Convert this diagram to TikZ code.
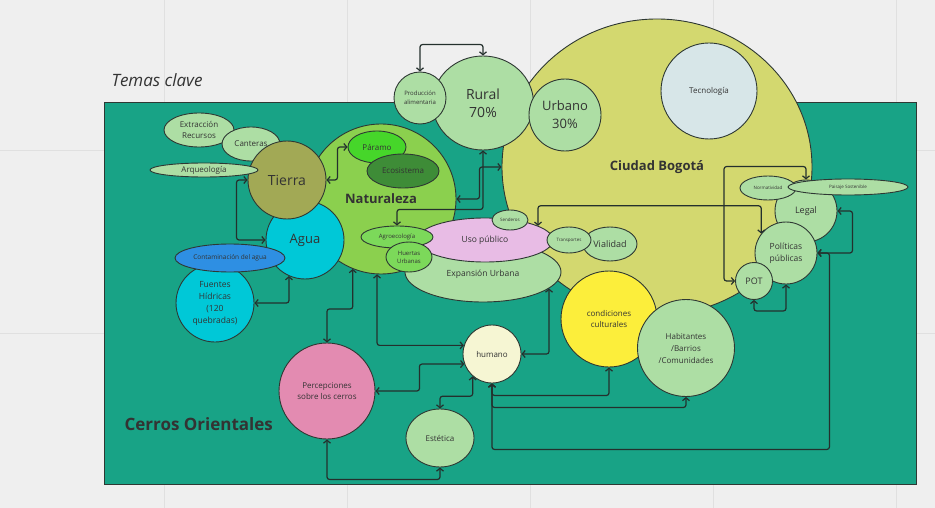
\documentclass[tikz,border=0pt]{standalone}
\usepackage{fontspec}
\setmainfont{Open Sans}
\usepackage{tikz}
\usetikzlibrary{shapes.geometric, arrows.meta}

\definecolor{paper}{HTML}{EFEFEF}
\definecolor{gridc}{HTML}{E0E0E0}
\definecolor{hills}{HTML}{18A386}
\definecolor{edge}{HTML}{2E3833}
\definecolor{wire}{HTML}{24302D}
\definecolor{ink}{HTML}{333333}
\definecolor{leaf}{HTML}{ADDEA4}
\definecolor{bogc}{HTML}{D3D86F}
\definecolor{tecc}{HTML}{D7E6E8}
\definecolor{natc}{HTML}{8BD04E}
\definecolor{parc}{HTML}{46D62A}
\definecolor{ecoc}{HTML}{3E8C37}
\definecolor{tiec}{HTML}{A2A955}
\definecolor{aguc}{HTML}{00C8D7}
\definecolor{contc}{HTML}{2E8FE3}
\definecolor{usoc}{HTML}{E8BCE5}
\definecolor{agroc}{HTML}{7CD95A}
\definecolor{condc}{HTML}{FCEE3B}
\definecolor{humc}{HTML}{F6F6D3}
\definecolor{percc}{HTML}{E38BB1}

\tikzset{
  fs/.style 2 args={font=\fontsize{#1}{#2}\selectfont},
  bubble/.style={circle, draw=edge, line width=0.9pt, inner sep=0pt, align=center, text=ink, fill=leaf, minimum size=#1},
  oval/.style 2 args={ellipse, draw=edge, line width=0.9pt, inner sep=0pt, align=center, text=ink, fill=leaf, minimum width=#1, minimum height=#2},
  link/.style={<->, draw=wire, line width=1.2pt, rounded corners=2.5pt},
  gridline/.style={draw=gridc, line width=0.8pt},
}

\begin{document}
\begin{tikzpicture}[x=1pt, y=-1pt, >={Straight Barb[length=3pt,width=7pt]}]
  \fill[paper] (0,0) rectangle (935,508);
  \useasboundingbox (0,0) rectangle (935,508);
  \foreach \gx in {164,347,530,713,896}
    \draw[gridline] (\gx,0) -- (\gx,508);
  \foreach \gy in {150,333}
    \draw[gridline] (0,\gy) -- (935,\gy);

  \node[anchor=west, fs={17}{20}, text=ink] (title) at (108,80) {\itshape Temas clave};
  \filldraw[fill=hills, draw=edge, line width=0.8pt] (104,102) rectangle (916,484);
  \node[anchor=west, fs={17}{20}, text=ink] (cerros) at (121,424) {\bfseries Cerros Orientales};

  % ciudad
  \node[oval={310}{296}, fill=bogc, fs={13}{15}] (bog) at (657,167) {\bfseries Ciudad Bogotá};
  \node[bubble=96, fill=tecc, fs={8}{10}] (tec) at (709,91) {Tecnología};
  \node[oval={101}{94}, fs={14}{18}] (rur) at (483,103) {Rural\\70\%};
  \node[bubble=52, fs={6}{9}] (prod) at (420,98) {Producción\\alimentaria};
  \node[bubble=72, fs={13}{18}] (urb) at (565,115) {Urbano\\30\%};

  % naturaleza
  \node[bubble=150, fill=natc, fs={13}{15}] (nat) at (381,199) {\bfseries Naturaleza};
  \node[oval={58}{32}, fill=parc, fs={8}{10}] (par) at (377,147) {Páramo};
  \node[oval={72}{34}, fill=ecoc, fs={8}{10}] (eco) at (403,171) {Ecosistema};
  \node[bubble=78, fill=aguc, fs={13}{15}] (agu) at (305,240) {Agua};
  \node[oval={70}{34}, fs={8}{11}] (ext) at (199,130) {Extracción\\Recursos};
  \node[oval={58}{34}, fs={8}{10}] (can) at (251,144) {Canteras};
  \node[bubble=78, fill=tiec, fs={14}{16}] (tie) at (287,180) {Tierra};
  \node[oval={108}{14}, fs={8}{10}] (arq) at (204,170) {Arqueología};
  \node[bubble=78, fill=aguc, fs={8.5}{12}] (fue) at (215,303) {Fuentes\\Hídricas\\(120\\quebradas)};
  \node[oval={110}{28}, fill=contc, fs={6.5}{8}] (cont) at (230,258) {Contaminación del agua};

  % uso del suelo
  \node[oval={156}{60}, fs={8.5}{10}] (exp) at (483,272) {\raisebox{-11pt}{Expansión Urbana}};
  \node[oval={136}{44}, fill=usoc, fs={8.5}{10}] (uso) at (485,240) {Uso público};
  \node[oval={36}{20}, fs={4.5}{6}] (sen) at (510,220) {Senderos};
  \node[oval={72}{22}, fill=agroc, fs={6}{8}] (agro) at (397,237) {Agroecología};
  \node[oval={46}{30}, fill=agroc, fs={6}{8}] (huer) at (409,257) {Huertas\\Urbanas};
  \node[oval={54}{34}, fs={9}{11}] (via) at (610,244) {Vialidad};
  \node[oval={44}{26}, fs={4.5}{6}] (tra) at (569,240) {Transportes};

  % normas
  \node[bubble=62, fs={9}{11}] (leg) at (806,211) {Legal};
  \node[oval={56}{24}, fs={4.5}{6}] (norm) at (768,188) {Normatividad};
  \node[oval={120}{16}, fs={4.5}{6}] (pais) at (848,187) {Paisaje Sostenible};
  \node[bubble=62, fs={8.5}{12}] (pol) at (786,253) {Políticas\\públicas};
  \node[bubble=37, fs={9}{11}] (pot) at (754,281) {POT};

  % personas
  \node[bubble=96, fill=condc, fs={8}{11}] (cond) at (609,319) {condiciones\\culturales};
  \node[bubble=97, fs={8}{12}] (hab) at (686,348) {Habitantes\\/Barrios\\/Comunidades};
  \node[bubble=58, fill=humc, fs={8}{10}] (hum) at (492,354) {humano};
  \node[bubble=96, fill=percc, fs={8}{11}] (perc) at (327,391) {Percepciones\\sobre los cerros};
  \node[oval={68}{58}, fs={8}{10}] (est) at (440,438) {Estética};

  \draw[link] (prod.north) -- ++(0,-27) -| (rur.north);
  \draw[link] (rur.south) -- ++(0,59) -| (agro.north);
  \draw[link] (nat.east) -- ++(23,0) |- (bog.west);
  \draw[link] (tie.east) -- ++(11,0) |- (par.west);
  \draw[link] (tie.west) -- ++(-11,0) |- (agu.west);
  \draw[link] (agu.246) |- (fue.east);
  \draw[link] (nat.248) -- ++(0,40) -| (perc.north);
  \draw[link] (nat.267) |- (hum.163);
  \draw[link] (perc.east) -- ++(44,0) |- (hum.200);
  \draw[link] (hum.229) -- ++(0,20) -| (est.north);
  \draw[link] (perc.south) -- ++(0,40) -| (est.south);
  \draw[link] (hum.east) -| (exp.-14);
  \draw[link] (hum.south) -- ++(0,12) -| (cond.south);
  \draw[link] (hum.south) -- ++(0,24) -| (hab.south);
  \draw[link] (hum.south) -- ++(0,66) -| ([xshift=12pt]pol.east) -- (pol.east);
  \draw[link] (leg.east) -- ++(15,0) |- (pol.east);
  \draw[link] (pot.south) -- ++(0,11) -| (pol.south);
  \draw[link] (leg.north) -- ++(0,-13) -| ([xshift=-11pt]pot.west) -- (pot.west);
  \draw[link] (uso.15) -- ++(0,-20) -| (pol.142);
\end{tikzpicture}
\end{document}
